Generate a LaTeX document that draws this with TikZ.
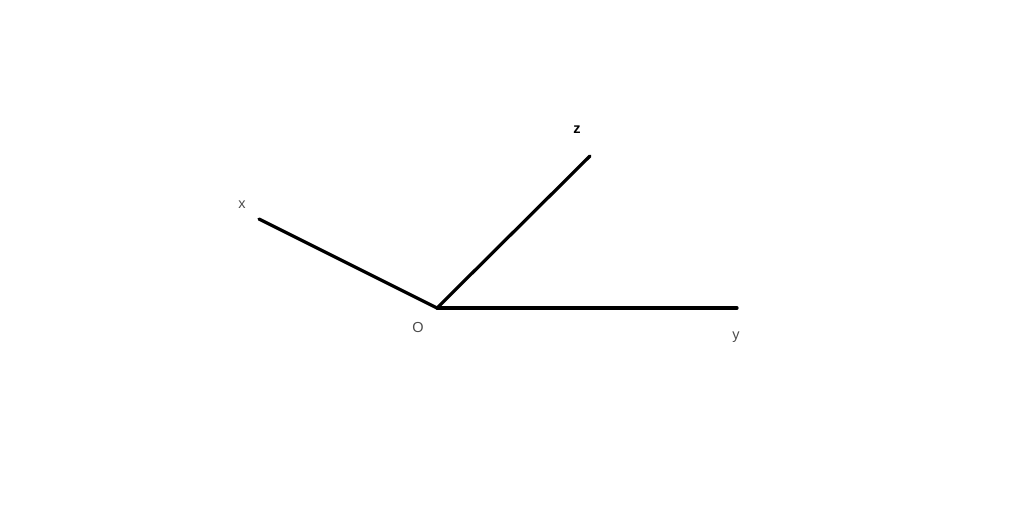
\documentclass[tikz,border=0pt]{standalone}
\usepackage{fontspec}
\setmainfont{Liberation Sans}
\tikzset{
	axis/.style={line width=3.2pt, line cap=round},
	axlabel/.style={font=\fontsize{14.5}{17}\selectfont, text=black!70, inner sep=0pt}
}

\begin{document}
\begin{tikzpicture}[x=1pt, y=-1pt]
			%%%%% START %%%%%
			\useasboundingbox (0, 0) rectangle (1024, 524);
			
			\coordinate (O) at (437, 308);
			\coordinate (X) at (259, 219);
			\coordinate (Z) at (590, 156);
			\coordinate (Y) at (737, 308);
			
			\draw[axis] (O) -- (X);
			\draw[axis] (O) -- (Z);
			\draw[axis] (O) -- (Y);
			
			\node[axlabel] (labelx) at (242, 205) {x};
			\node[axlabel, text=black, font=\bfseries\fontsize{14.5}{17}\selectfont] (labelz) at (577, 130) {z};
			\node[axlabel] (labelo) at (418, 328) {O};
			\node[axlabel] (labely) at (736, 337) {y};
			
			%%%%% END %%%%%
\end{tikzpicture}
\end{document}
